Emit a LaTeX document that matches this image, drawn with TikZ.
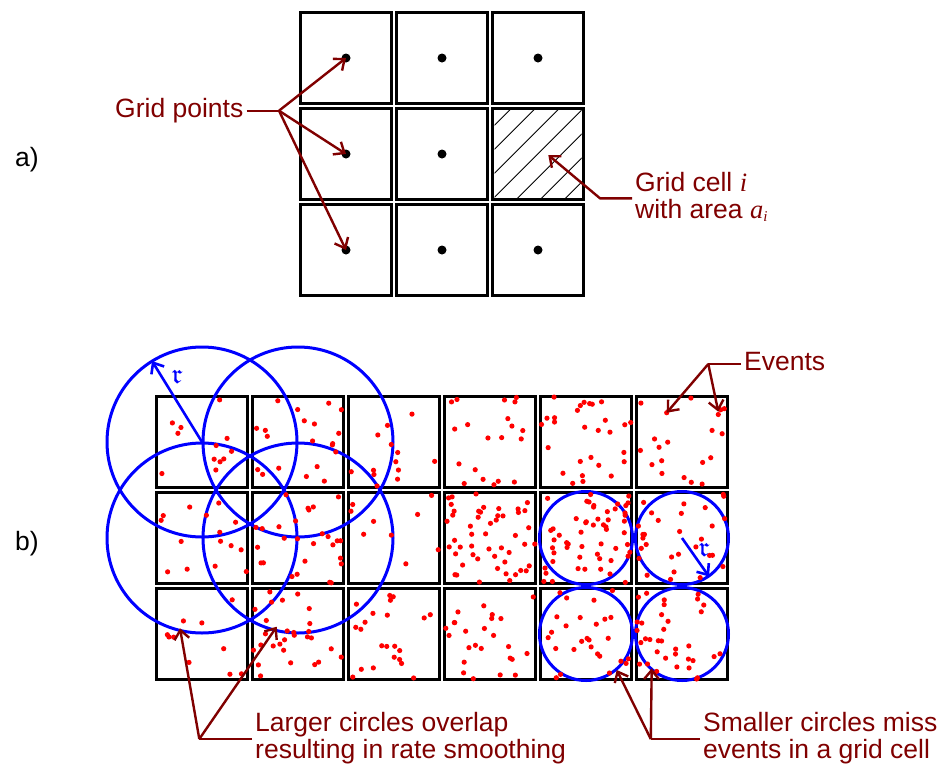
\documentclass[tikz,border=0pt]{standalone}
\usepackage{fontspec}
\setmainfont{Liberation Sans}
\newfontfamily\seriffam{Liberation Serif}
\usepackage{amssymb}
\usetikzlibrary{arrows.meta}
\definecolor{lblred}{RGB}{128,0,0}
\definecolor{evred}{RGB}{255,0,0}
\definecolor{cblue}{RGB}{0,0,255}
\begin{document}
\begin{tikzpicture}[x=1pt,y=-1pt,
  cell/.style={draw=black,line width=3.2pt,minimum width=91pt,minimum height=91pt,inner sep=0pt,outer sep=0pt},
  gpt/.style={circle,fill=black,inner sep=0pt,minimum size=9pt},
  lbl/.style={text=lblred,font=\fontsize{26.5}{27}\selectfont,inner xsep=3pt,inner ysep=0pt,anchor=base west},
  plain/.style={text=black,font=\fontsize{26.5}{27}\selectfont,inner sep=0pt,anchor=base west},
  ptr/.style={draw=lblred,line width=2.4pt,line join=miter,-{Straight Barb[length=9pt,width=15pt]}},
  ring/.style={draw=cblue,line width=3pt},
  rad/.style={draw=cblue,line width=2.6pt,-{Straight Barb[length=9pt,width=15pt]}},
  rlab/.style={text=cblue,inner sep=0pt,font=\fontsize{28}{28}\selectfont},
  hatch/.style={draw=black,line width=0.9pt},
]
\useasboundingbox (0,0) rectangle (943,772);

% ---------- a) ----------
\node[plain] (la) at (15,166) {a)};
\foreach \r/\yy in {1/58,2/154,3/250}{
  \foreach \c/\xx in {1/346,2/442,3/538}{
    \node[cell] (t\r\c) at (\xx,\yy) {};
  }
}
\foreach \r/\yy in {1/58,2/154,3/250}{
  \foreach \c/\xx in {1/346,2/442,3/538}{
    \ifnum\r\c=23\relax\else
      \node[gpt] (p\r\c) at (\xx,\yy) {};
    \fi
  }
}
% hatched cell
\begin{scope}
  \clip (494.5,109.5) rectangle (581.5,198.5);
  \foreach \cc in {595.7,619.7,643.7,667.7,691.7,715.7,739.7,763.7}{
    \draw[hatch] ({\cc-220},220) -- ({\cc-80},80);
  }
\end{scope}

\node[lbl] (gp) at (112,117) {Grid points};
\coordinate (J1) at (279,110.7);
\draw[ptr,-] (gp.east |- J1) -- (J1);
\draw[ptr] (J1) -- (p11.center);
\draw[ptr] (J1) -- (p21.center);
\draw[ptr] (J1) -- (p31.center);

\node[lbl] (gc1) at (632,191) {Grid cell {\seriffam\itshape i}};
\node[lbl] (gc2) at (632,218) {with area {\seriffam\itshape a}{\fontsize{15}{15}\selectfont\seriffam\itshape\raisebox{-3pt}{i}}};
\coordinate (K2) at (600,198.3);
\coordinate (T2) at (548.3,155);
\draw[ptr] (gc1.west |- K2) -- (K2) -- (T2);

% ---------- b) ----------
\node[plain] (lb) at (15,550) {b)};
\foreach \r/\yy in {1/442,2/538,3/634}{
  \foreach \c/\xx in {1/202,2/298,3/394,4/490,5/586,6/682}{
    \node[cell] (b\r\c) at (\xx,\yy) {};
  }
}
% circles
\foreach \n in {b11,b12,b21,b22}{
  \draw[ring] (\n.center) circle (95pt);
}
\foreach \n in {b25,b26,b35,b36}{
  \draw[ring] (\n.center) circle (46.5pt);
}
% events
\pgfmathsetseed{4242}
\foreach \xx/\yy/\nn in {202/442/12,298/442/20,394/442/13,490/442/20,586/442/28,682/442/18,
                         202/538/15,298/538/27,394/538/9,490/538/50,586/538/55,682/538/30,
                         202/634/10,298/634/28,394/634/22,490/634/25,586/634/27,682/634/35}{
  \foreach \k in {1,...,\nn}{
    \pgfmathsetmacro\dx{rand*45}
    \pgfmathsetmacro\dy{rand*45}
    \fill[evred] ({\xx+\dx},{\yy+\dy}) circle (2.6pt);
  }
}
\fill[evred] (666.7,412.7) circle (2.6pt);
\fill[evred] (718.3,414.5) circle (2.6pt);

% radius arrows
\draw[rad] (b11.center) -- ++(-50,-81);
\node[rlab] (r1) at (177,377) {$\mathfrak{r}$};
\draw[rad] (b26.center) -- ++(27,38.5);
\node[rlab] (r2) at (704,550) {$\mathfrak{r}$};

% Events label
\node[lbl] (ev) at (741,370) {Events};
\coordinate (J3) at (708.3,364);
\coordinate (E1) at (666.7,412.7);
\coordinate (E2) at (718.3,411.7);
\draw[ptr,-] (ev.west |- J3) -- (J3);
\draw[ptr] (J3) -- (E1);
\draw[ptr] (J3) -- (E2);

% bottom-left label
\node[lbl] (lo1) at (252,731) {Larger circles overlap};
\node[lbl] (lo2) at (252,758) {resulting in rate smoothing};
\coordinate (J4) at (199.3,739);
\coordinate (L1) at (180,628.3);
\coordinate (L2) at (276.7,626.7);
\draw[ptr,-] (lo1.west |- J4) -- (J4);
\draw[ptr] (J4) -- (L1);
\draw[ptr] (J4) -- (L2);

% bottom-right label
\node[lbl] (sm1) at (700,731) {Smaller circles miss};
\node[lbl] (sm2) at (700,758) {events in a grid cell};
\coordinate (J5) at (650.8,739);
\coordinate (S1) at (616.7,670);
\coordinate (S2) at (651.7,668.3);
\draw[ptr,-] (sm1.west |- J5) -- (J5);
\draw[ptr] (J5) -- (S1);
\draw[ptr] (J5) -- (S2);
\end{tikzpicture}
\end{document}
